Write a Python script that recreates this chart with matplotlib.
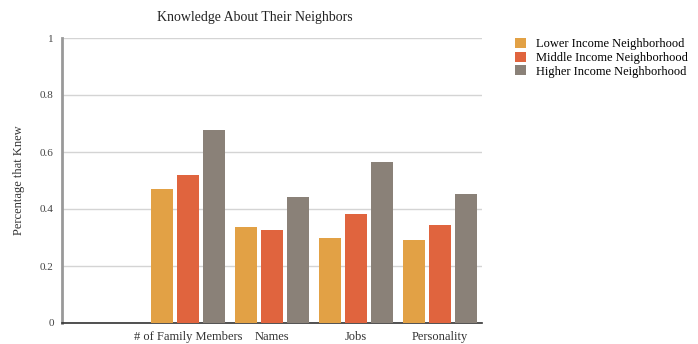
import matplotlib.pyplot as plt
import numpy as np

categories = ["", "# of Family Members", "Names", "Jobs", "Personality"]
series_names = ["Lower Income Neighborhood", "Middle Income Neighborhood", "Higher Income Neighborhood"]
lower_income = [np.nan, 0.47, 0.338, 0.30, 0.291]
middle_income = [np.nan, 0.518, 0.326, 0.382, 0.344]
higher_income = [np.nan, 0.677, 0.441, 0.564, 0.453]
y_ticks = [0, 0.2, 0.4, 0.6, 0.8, 1]
y_tick_labels = ["0", "0.2", "0.4", "0.6", "0.8", "1"]

COLORS = ["#E2A145", "#E0643E", "#8A8178"]

plt.rcParams["font.family"] = ["Liberation Serif", "DejaVu Serif"]

fig = plt.figure(figsize=(6.98, 3.44), dpi=100)
ax = fig.add_axes([62 / 698, 1 - 323 / 344, 420 / 698, 285 / 344])

x = np.arange(len(categories))
width = 0.27
offset = 0.31
for i, (values, name) in enumerate(zip([lower_income, middle_income, higher_income], series_names)):
    ax.bar(x + (i - 1) * offset, values, width=width, color=COLORS[i], label=name, zorder=3)

ax.set_xlim(-0.5, len(categories) - 0.5)
ax.set_ylim(0, 1)
ax.set_xticks(x)
ax.set_xticklabels(categories, fontsize=9, color="#333333")
ax.set_yticks(y_ticks)
ax.set_yticklabels(y_tick_labels, fontsize=8, color="#444444")
ax.tick_params(axis="both", length=0, pad=6)
ax.grid(axis="y", color="#d4d4d4", linewidth=1, zorder=0)
ax.set_axisbelow(True)

for side in ["top", "right"]:
    ax.spines[side].set_visible(False)
ax.spines["left"].set_color("#999999")
ax.spines["left"].set_linewidth(2)
ax.spines["bottom"].set_color("#333333")
ax.spines["bottom"].set_linewidth(1.2)

ax.set_ylabel("Percentage that Knew", fontsize=9, color="#333333", labelpad=11)
fig.text(255 / 698, 1 - 17 / 344, "Knowledge About Their Neighbors", ha="center", va="center",
         fontsize=10, color="#222222")

fig.legend(loc="upper left", bbox_to_anchor=(515 / 698, 1 - 38 / 344), frameon=False,
           fontsize=9, handlelength=0.9, handleheight=0.9, handletextpad=0.8,
           labelspacing=0.08, borderaxespad=0, borderpad=0)

fig.savefig("out.png", dpi=100)
